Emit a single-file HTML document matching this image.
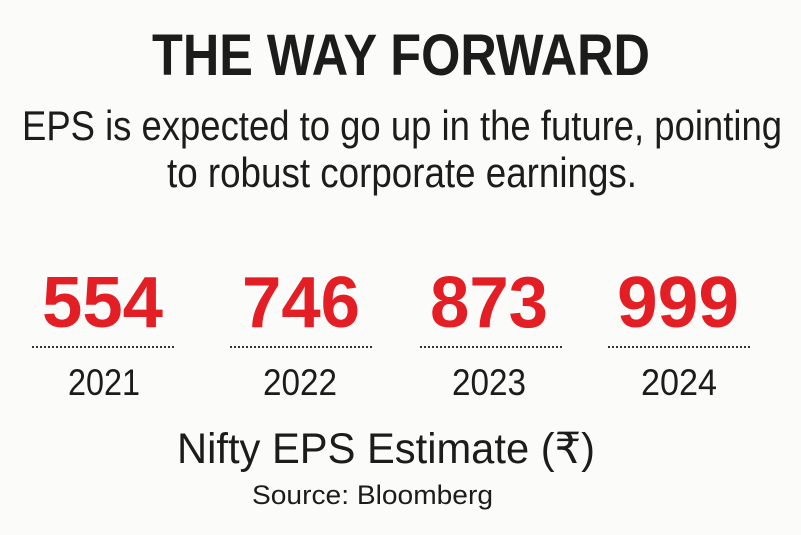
<!DOCTYPE html>
<html><head><meta charset="utf-8"><style>
html,body{margin:0;padding:0;background:#fbfbf9;}
svg{display:block}
text{font-family:"Liberation Sans","DejaVu Sans",sans-serif;fill:#1c1c1c}
.r{fill:#e31e24;font-weight:bold;font-size:72px}
.y{font-size:37px}
</style></head><body>
<svg width="801" height="535" viewBox="0 0 801 535" xmlns="http://www.w3.org/2000/svg">
<rect width="801" height="535" fill="#fbfbf9"/>
<text x="152" y="75" font-size="58" font-weight="bold" textLength="498" lengthAdjust="spacingAndGlyphs">THE WAY FORWARD</text>
<text x="22" y="140" font-size="42" textLength="760" lengthAdjust="spacingAndGlyphs">EPS is expected to go up in the future, pointing</text>
<text x="167" y="187" font-size="42" textLength="470" lengthAdjust="spacingAndGlyphs">to robust corporate earnings.</text>
<text class="r" x="42" y="327" textLength="121" lengthAdjust="spacingAndGlyphs">554</text>
<text class="r" x="242" y="327" textLength="118" lengthAdjust="spacingAndGlyphs">746</text>
<text class="r" x="430" y="327" textLength="118" lengthAdjust="spacingAndGlyphs">873</text>
<text class="r" x="617" y="327" textLength="122" lengthAdjust="spacingAndGlyphs">999</text>
<g stroke="#333" stroke-width="2" stroke-dasharray="2 2">
<line x1="32" y1="347" x2="174" y2="347"/>
<line x1="230" y1="347" x2="372" y2="347"/>
<line x1="420" y1="347" x2="562" y2="347"/>
<line x1="608" y1="347" x2="752" y2="347"/>
</g>
<text class="y" x="68" y="395" textLength="72" lengthAdjust="spacingAndGlyphs">2021</text>
<text class="y" x="263" y="395" textLength="74" lengthAdjust="spacingAndGlyphs">2022</text>
<text class="y" x="452" y="395" textLength="74" lengthAdjust="spacingAndGlyphs">2023</text>
<text class="y" x="641" y="395" textLength="76" lengthAdjust="spacingAndGlyphs">2024</text>
<text x="177" y="463" font-size="43" textLength="418" lengthAdjust="spacingAndGlyphs">Nifty EPS Estimate (₹)</text>
<text x="252" y="504" font-size="27" textLength="241" lengthAdjust="spacingAndGlyphs">Source: Bloomberg</text>
</svg>
</body></html>
